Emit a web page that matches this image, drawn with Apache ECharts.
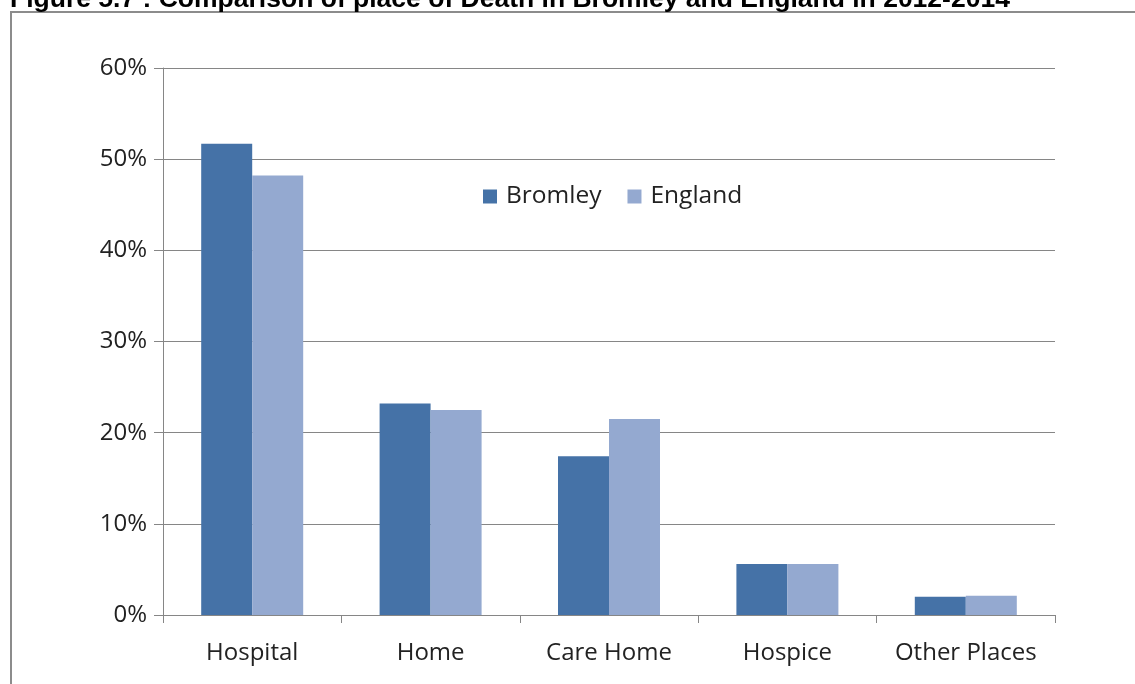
<!DOCTYPE html>
<html lang="en">
<head>
    <meta charset="UTF-8">
    <title>Place of Death</title>
    <script src="https://cdn.jsdelivr.net/npm/echarts@6/dist/echarts.min.js"></script>
    <style>
        html, body { margin: 0; padding: 0; background: #fff; }
    </style>
</head>
<body>
    <div id="main" style="width: 1135px;height:684px;"></div>
    <script type="text/javascript">
        // data (percent)
        var places = ['Hospital', 'Home', 'Care Home', 'Hospice', 'Other Places'];
        var bromley = [51.7, 23.2, 17.4, 5.6, 2.0];
        var england = [48.2, 22.5, 21.5, 5.6, 2.1];
        var seriesNames = ['Bromley', 'England'];

        var myChart = echarts.init(document.getElementById('main'));
        var labelFont = '"Open Sans", "Noto Sans", sans-serif';

        var option = {
            animation: false,
            backgroundColor: '#fff',
            title: {
                text: 'Figure 5.7 : Comparison of place of Death in Bromley and England in 2012-2014',
                left: 5,
                top: -19,
                textStyle: {
                    fontFamily: '"Liberation Sans", Arial, sans-serif',
                    fontWeight: 'bold',
                    fontSize: 26.5,
                    color: '#000'
                }
            },
            graphic: [{
                type: 'rect',
                shape: { x: 11, y: 12, width: 1140, height: 700 },
                style: { fill: 'none', stroke: '#8c8c8c', lineWidth: 2 },
                silent: true
            }],
            legend: {
                data: seriesNames,
                left: 478,
                top: 179,
                itemWidth: 14,
                itemHeight: 14,
                itemGap: 26,
                icon: 'rect',
                textStyle: { fontFamily: labelFont, fontSize: 24.5, color: '#222', padding: [0, 0, 0, 4] }
            },
            grid: { left: 163, right: 80, top: 68, bottom: 69 },
            xAxis: {
                type: 'category',
                data: places,
                axisLine: { lineStyle: { color: '#868686', width: 1 } },
                axisTick: { show: true, interval: 0, length: 8, lineStyle: { color: '#868686' } },
                axisLabel: { interval: 0, fontFamily: labelFont, fontSize: 24, color: '#222', margin: 26 }
            },
            yAxis: {
                type: 'value',
                min: 0,
                max: 60,
                interval: 10,
                axisLine: { show: true, lineStyle: { color: '#868686' } },
                axisTick: { show: true, length: 9, lineStyle: { color: '#868686' } },
                axisLabel: { formatter: '{value}%', fontFamily: labelFont, fontSize: 24, color: '#222', margin: 16 },
                splitLine: { lineStyle: { color: '#868686', width: 1 } }
            },
            series: [{
                name: 'Bromley',
                type: 'bar',
                data: bromley,
                barWidth: 51,
                barGap: '0%',
                itemStyle: { color: '#4572a7' }
            }, {
                name: 'England',
                type: 'bar',
                data: england,
                barWidth: 51,
                itemStyle: { color: '#94a9d0' }
            }]
        };

        myChart.setOption(option);
    </script>
</body>
</html>
